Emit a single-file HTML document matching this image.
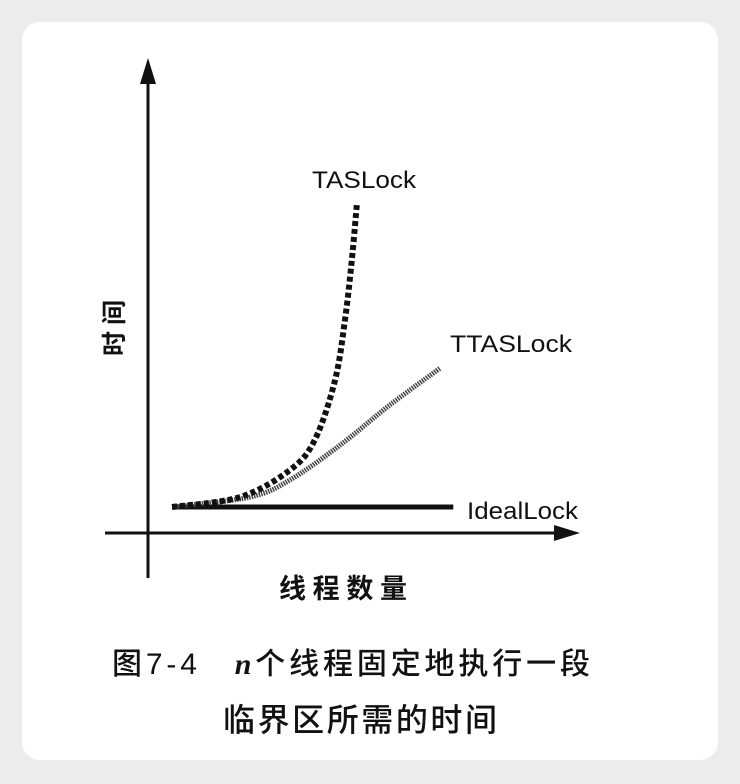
<!DOCTYPE html>
<html><head><meta charset="utf-8"><style>
html,body{margin:0;padding:0;background:#ececec;}
#card{position:absolute;left:22px;top:22px;width:696px;height:738px;background:#fff;border-radius:18px;}
svg{position:absolute;left:0;top:0;}
.lbl{font-family:"Liberation Sans",sans-serif;font-size:24px;fill:#111;}
.cjk{font-family:"Liberation Sans","Noto Sans CJK SC",sans-serif;fill:#111;font-weight:bold;}
.cap{font-family:"Liberation Sans","Noto Sans CJK SC",sans-serif;fill:#111;font-weight:500;}
</style></head><body>
<div id="card"></div>
<svg id="chart" width="740" height="784">
  <g id="axes">
    <line x1="148" y1="578" x2="148" y2="75" stroke="#111" stroke-width="3"/>
    <polygon points="148,58 140,84 156,84" fill="#111"/>
    <line x1="105" y1="533" x2="562" y2="533" stroke="#111" stroke-width="3"/>
    <polygon points="580,533 554,525 554,541" fill="#111"/>
  </g>
  <g id="series"></g>
  <text class="lbl" x="312" y="188" textLength="104" lengthAdjust="spacingAndGlyphs">TASLock</text>
  <text class="lbl" x="450" y="352" textLength="122" lengthAdjust="spacingAndGlyphs">TTASLock</text>
  <text class="lbl" x="467" y="519" textLength="111" lengthAdjust="spacingAndGlyphs">IdealLock</text>
  <text class="cjk" x="0" y="0" font-size="25" textLength="56" transform="translate(123,356) rotate(-90)">时间</text>
  <text class="cjk" x="279" y="598" font-size="27" textLength="128">线程数量</text>
  <text class="cap" x="112" y="674" font-size="30" textLength="478">图7-4　<tspan font-family="Liberation Serif" font-style="italic" font-weight="bold">n</tspan>个线程固定地执行一段</text>
  <text class="cap" x="223" y="731" font-size="32" textLength="274">临界区所需的时间</text>
</svg>
<script>
const idealX = [5.6, 71];
const idealY = [5.5, 5.5];
const tasX = [5.6, 21.4, 33, 38.8, 43.5, 45.8, 47.4, 48.6];
const tasY = [5.5, 7.6, 13.3, 19.7, 32.3, 45, 57.7, 69.8];
const ttasX = [5.6, 23.7, 33, 44.7, 56.3, 68];
const ttasY = [5.5, 7.6, 11.2, 18.6, 27.1, 34.9];
function sx(v){return 148 + v*4.3;}
function sy(v){return 533 - v*4.73;}
function pathFor(xs, ys){
  const p = xs.map((x,i)=>[sx(x), sy(ys[i])]);
  let d = 'M'+p[0][0]+','+p[0][1];
  for(let i=0;i<p.length-1;i++){
    const p0=p[Math.max(0,i-1)],p1=p[i],p2=p[i+1],p3=p[Math.min(p.length-1,i+2)];
    const c1=[p1[0]+(p2[0]-p0[0])/6,p1[1]+(p2[1]-p0[1])/6];
    const c2=[p2[0]-(p3[0]-p1[0])/6,p2[1]-(p3[1]-p1[1])/6];
    d+=' C'+c1[0]+','+c1[1]+' '+c2[0]+','+c2[1]+' '+p2[0]+','+p2[1];
  }
  return d;
}
const g = document.getElementById('series');
const NS = 'http://www.w3.org/2000/svg';
function add(xs, ys, w, dash, color, name){
  const el = document.createElementNS(NS,'path');
  el.setAttribute('d', pathFor(xs, ys));
  el.setAttribute('fill','none');
  el.setAttribute('stroke',color);
  el.setAttribute('stroke-width',w);
  if(dash) el.setAttribute('stroke-dasharray',dash);
  
  
  g.appendChild(el);
}
add(idealX, idealY, 5, null, '#111', 'ideallock-line');
add(ttasX, ttasY, 5, '1.5 1', '#444', 'ttaslock-line');
add(tasX, tasY, 6, '5 3', '#111', 'taslock-line');
</script>
</body></html>
